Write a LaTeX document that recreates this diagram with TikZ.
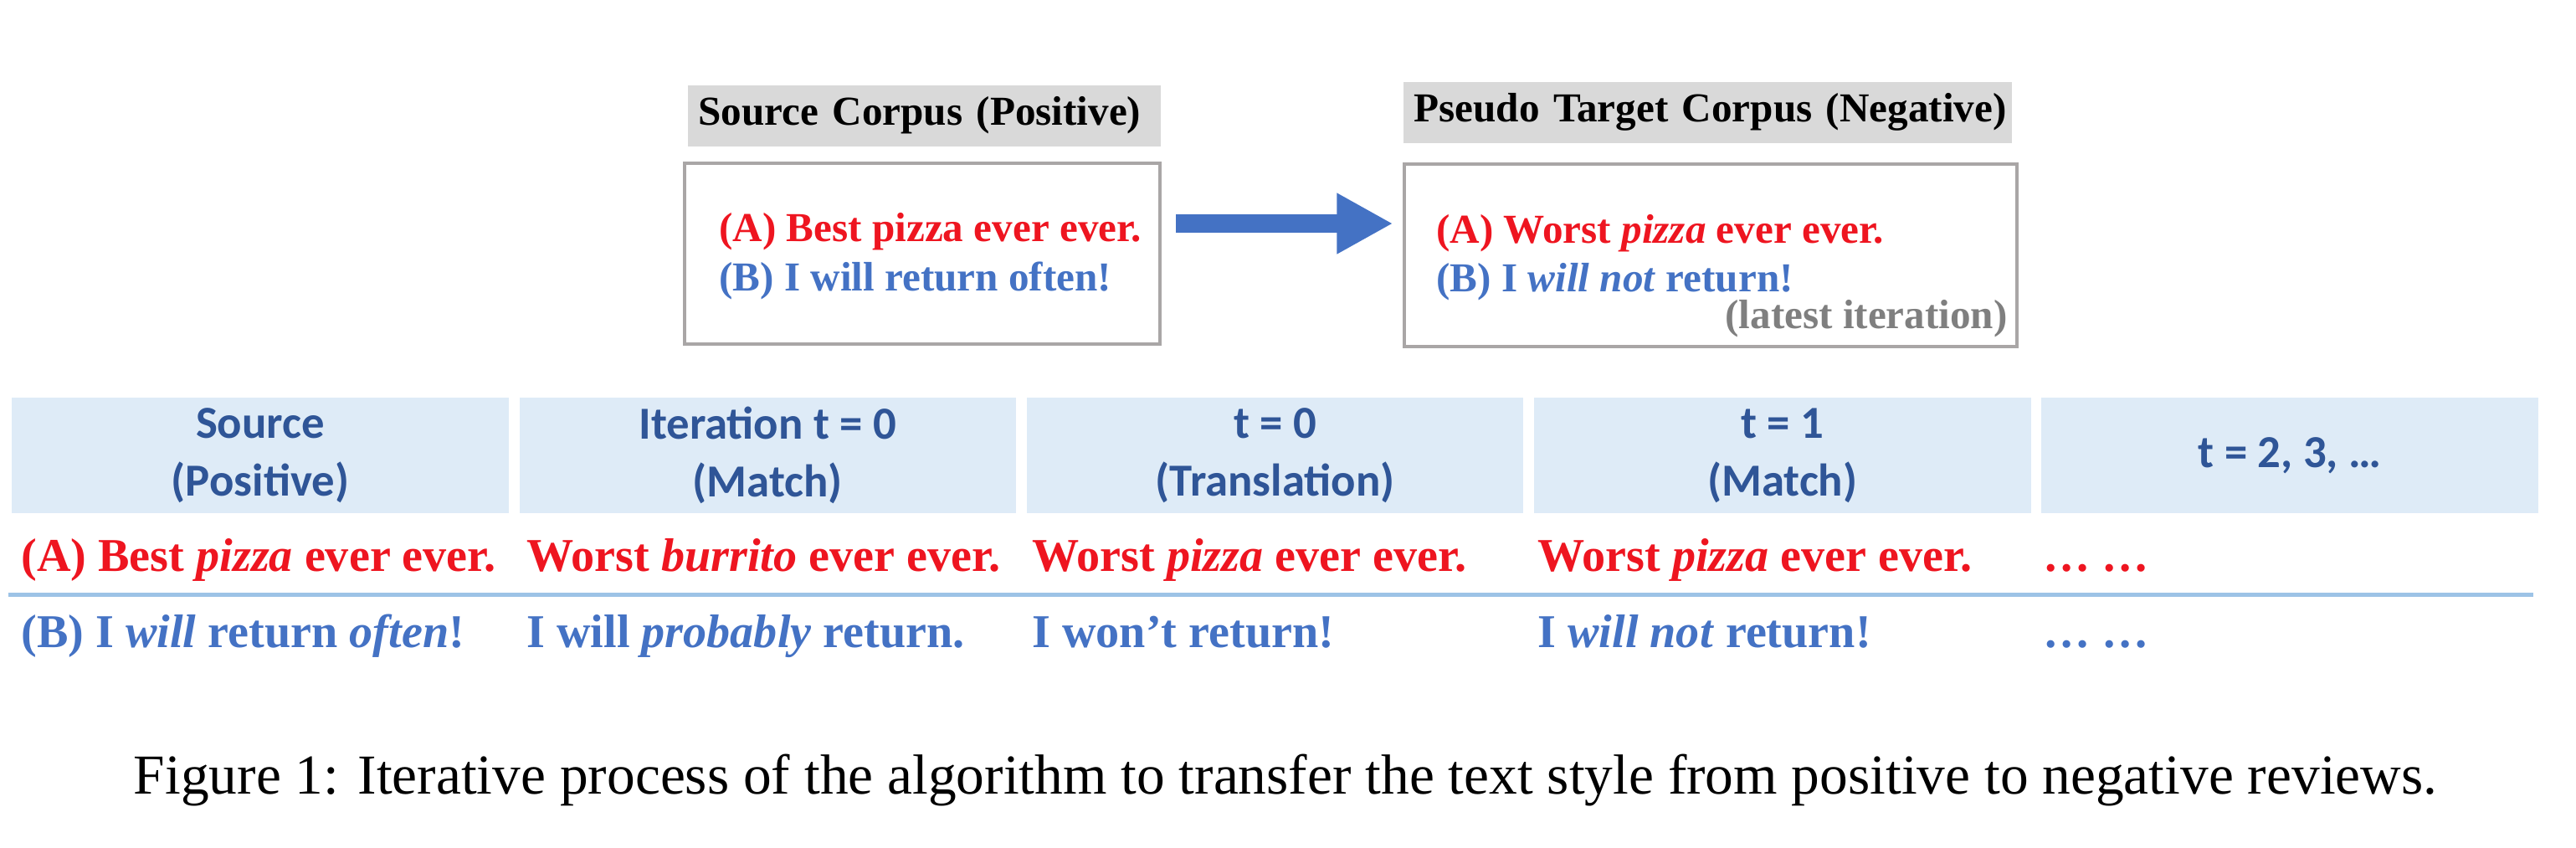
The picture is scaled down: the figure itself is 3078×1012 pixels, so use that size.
\documentclass[tikz,border=0pt]{standalone}
\usepackage{fontspec}
\setmainfont{Liberation Serif}[BoldItalicFont={Liberation Serif Bold Italic}]
\newfontfamily\calibfont{Carlito}
\usepackage{tikz}
\usetikzlibrary{positioning}
\usetikzlibrary{arrows.meta}

\definecolor{revred}{HTML}{EE1520}
\definecolor{revblue}{HTML}{4472C4}
\definecolor{headblue}{HTML}{2F5597}
\definecolor{headfill}{HTML}{DEEBF7}
\definecolor{rulefill}{HTML}{9DC3E6}
\definecolor{corpfill}{HTML}{D9D9D9}
\definecolor{corpline}{HTML}{A9A6A6}
\definecolor{latestgray}{HTML}{7F7F7F}

\begin{document}
\begin{tikzpicture}[x=0.005cm, y=-0.005cm,
    corptitle/.style={fill=corpfill, anchor=west, inner sep=0pt, minimum height=0.365cm, align=left, execute at begin node=\hspace*{0.06cm}, font=\fontsize{7}{8.4}\selectfont\bfseries},
    corpbox/.style={draw=corpline, line width=0.02cm, inner sep=0pt},
    boxtext/.style={font=\fontsize{7}{8.4}\selectfont\bfseries, inner sep=0pt},
    corparrow/.style={draw=revblue, line width=0.11cm, -{Triangle[length=0.335cm, width=0.34cm]}, shorten <=0.085cm, shorten >=0.06cm},
    headcell/.style={fill=headfill, text=headblue, minimum width=2.97cm, minimum height=0.69cm, inner sep=0pt, align=center, font=\calibfont\bfseries\fontsize{7.8}{9.8}\selectfont},
    rowtext/.style={font=\fontsize{8}{9.6}\selectfont\bfseries, inner sep=0pt, anchor=base west},
    sepline/.style={draw=rulefill, line width=0.025cm},
  ]
    \useasboundingbox (0,0) rectangle (3078,1012);

    % corpora on top
    \node[corptitle, text width=2.825cm] (srctitle) at (821,138) {Source Corpus (Positive)};
    \node[corptitle, text width=3.635cm] (tgttitle) at (1676,134) {Pseudo Target Corpus (Negative)};
    \node[corpbox, minimum width=2.845cm, minimum height=1.08cm] (srcbox) at (1102,303) {};
    \node[corpbox, minimum width=3.66cm, minimum height=1.09cm] (tgtbox) at (2044,305) {};

    \node[boxtext, text=revred, anchor=base west] (srca) at (858,288) {(A) Best pizza ever ever.};
    \node[boxtext, text=revblue, anchor=base west] (srcb) at (858,347) {(B) I will return often!};
    \node[boxtext, text=revred, anchor=base west] (tgta) at (1715,290) {(A) Worst \textit{pizza} ever ever.};
    \node[boxtext, text=revblue, anchor=base west] (tgtb) at (1715,348) {(B) I \textit{will not} return!};
    \node[boxtext, text=latestgray, anchor=base east] (latest) at (2400,392) {(latest iteration)};

    \draw[corparrow] (srcbox.east |- 0,267) -- (tgtbox.west |- 0,267);

    % table of iterations
    \node[headcell] (h1) at (311,544) {Source\\(Positive)};
    \node[headcell, right=0.05cm of h1] (h2) {Iteration t = 0\\(Match)};
    \node[headcell, right=0.05cm of h2] (h3) {t = 0\\(Translation)};
    \node[headcell, right=0.05cm of h3] (h4) {t = 1\\(Match)};
    \node[headcell, right=0.05cm of h4] (h5) {t = 2, 3, …};

    \node[rowtext, text=revred] (a1) at (24,682) {(A) Best \textit{pizza} ever ever.};
    \node[rowtext, text=revred] (a2) at (628,682) {Worst \textit{burrito} ever ever.};
    \node[rowtext, text=revred] (a3) at (1232,682) {Worst \textit{pizza} ever ever.};
    \node[rowtext, text=revred] (a4) at (1836,682) {Worst \textit{pizza} ever ever.};
    \node[rowtext, text=revred] (a5) at (2440,682) {… …};

    \draw[sepline] (10,710) -- (3027,710);

    \node[rowtext, text=revblue] (b1) at (24,773) {(B) I \textit{will} return \textit{often}!};
    \node[rowtext, text=revblue] (b2) at (628,773) {I will \textit{probably} return.};
    \node[rowtext, text=revblue] (b3) at (1232,773) {I won’t return!};
    \node[rowtext, text=revblue] (b4) at (1836,773) {I \textit{will not} return!};
    \node[rowtext, text=revblue] (b5) at (2440,773) {… …};

    \node[font=\fontsize{9.6}{11.5}\selectfont, anchor=base, inner sep=0pt] (caption) at (1536,948) {Figure 1: Iterative process of the algorithm to transfer the text style from positive to negative reviews.};
\end{tikzpicture}
\end{document}
